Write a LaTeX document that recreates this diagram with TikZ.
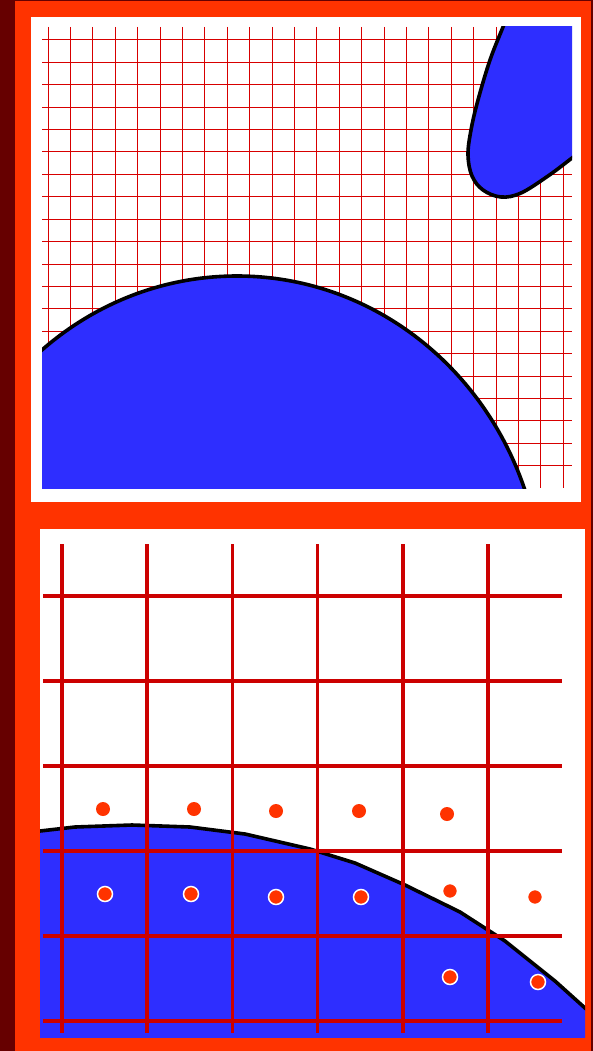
\documentclass[tikz,border=0pt]{standalone}
\usetikzlibrary{calc}
\definecolor{darkbg}{RGB}{102,0,0}
\definecolor{frameorange}{RGB}{255,51,0}
\definecolor{blobblue}{RGB}{46,46,255}
\definecolor{finegrid}{RGB}{215,0,0}
\definecolor{coarsegrid}{RGB}{204,0,0}
\definecolor{dotred}{RGB}{255,51,0}
\tikzset{
  fineline/.style={draw=finegrid, line width=1pt},
  coarseline/.style={draw=coarsegrid, line width=3.6pt},
  blob/.style={fill=blobblue},
  blobedge/.style={draw=black, line width=3.6pt, line join=round},
  plaindot/.style={fill=dotred},
  ringdot/.style={fill=dotred, draw=white, line width=1.5pt},
}
\begin{document}
\begin{tikzpicture}[x=1pt,y=-1pt]
\useasboundingbox (0,0) rectangle (593,1051);
% background and frame
\fill[darkbg] (0,0) rectangle (593,1051);
\fill[frameorange] (15,1) rectangle (591,1051);
% top panel
\fill[white] (31,17) rectangle (581,502);
\begin{scope}
  \clip (42,27) rectangle (572,488);
  \foreach \i in {0,...,23} {
    \draw[fineline] ({48+\i*22.4},27) -- ({48+\i*22.4},488);
  }
  \foreach \j in {0,...,19} {
    \draw[fineline] (42,{40+\j*22.4}) -- (572,{40+\j*22.4});
  }
  % top-right blob
  \path[blob] plot[smooth, tension=0.6] coordinates {(508,14) (503,27) (490,60) (478,100) (471,130) (468,155) (472,176) (483,190) (501,197) (521,193) (548,176) (572,158) (590,144)}
     -- (600,140) -- (600,0) -- cycle;
  \draw[blobedge] plot[smooth, tension=0.6] coordinates {(508,14) (503,27) (490,60) (478,100) (471,130) (468,155) (472,176) (483,190) (501,197) (521,193) (548,176) (572,158) (590,144)};
  % big blob
  \path[blob, blobedge] (237,596) ellipse [x radius=305, y radius=320];
\end{scope}
% bottom panel
\fill[white] (40,529) rectangle (585,1037);
\begin{scope}
  \clip (40,529) rectangle (585,1037);
  \path[blob] (30,832) -- (40,831) -- (75,827) -- (132,825) -- (190,827) -- (245,834) -- (310,849) -- (355,863) -- (405,885) -- (460,912) -- (505,941) -- (555,981) -- (585,1008) -- (595,1017) -- (595,1040) -- (30,1040) -- cycle;
  \draw[blobedge] (30,832) -- (40,831) -- (75,827) -- (132,825) -- (190,827) -- (245,834) -- (310,849) -- (355,863) -- (405,885) -- (460,912) -- (505,941) -- (555,981) -- (585,1008) -- (595,1017);
\end{scope}
\foreach \i in {0,...,5} {
  \draw[coarseline] ({62+\i*85.2},544) -- ({62+\i*85.2},1033);
  \draw[coarseline] (43,{596+\i*85}) -- (562,{596+\i*85});
}
% dots
\foreach \p in {(103,809),(194,809),(276,811),(359,811),(447,814)} {
  \fill[plaindot] \p circle (7);
}
\foreach \p in {(105,894),(191,894),(276,897),(361,897),(450,891),(535,897),(450,977),(538,982)} {
  \path[ringdot] \p circle (7.5);
}
\end{tikzpicture}
\end{document}
